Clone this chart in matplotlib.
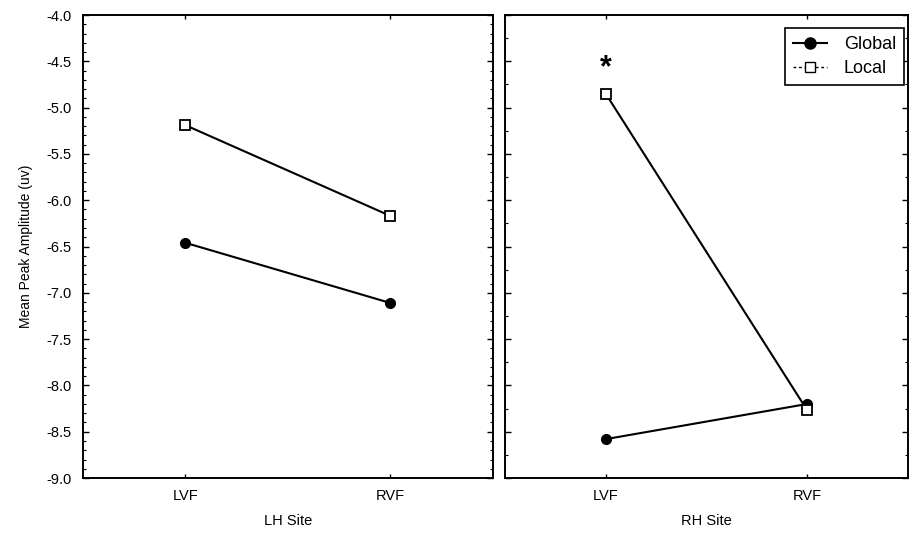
import matplotlib
matplotlib.use("Agg")
import matplotlib.pyplot as plt
from matplotlib.lines import Line2D
from matplotlib.ticker import MultipleLocator

plt.rcParams['font.family'] = ['Liberation Sans', 'DejaVu Sans']

# Visual fields on the x axis, one panel per hemisphere site
fields = ["LVF", "RVF"]
sites = ["LH Site", "RH Site"]

# Mean peak amplitudes (uV) per site: [LVF, RVF]
lh_global = [-6.46, -7.11]
lh_local = [-5.19, -6.17]
rh_global = [-8.58, -8.20]
rh_local = [-4.85, -8.27]

y_ticks = [-4.0, -4.5, -5.0, -5.5, -6.0, -6.5, -7.0, -7.5, -8.0, -8.5, -9.0]

fig = plt.figure(figsize=(9.11, 5.35), dpi=100)
ax_l = fig.add_axes([0.0911, 0.1065, 0.450, 0.8654])
ax_r = fig.add_axes([0.5543, 0.1065, 0.4425, 0.8654])

x = list(range(len(fields)))
panels = [(ax_l, lh_global, lh_local, sites[0], 0.1),
          (ax_r, rh_global, rh_local, sites[1], 0.25)]
for ax, g, loc, site, minor_step in panels:
    ax.plot(x, g, color="black", lw=1.5, marker="o", ms=7,
            markerfacecolor="black", markeredgecolor="black", zorder=3)
    ax.plot(x, loc, color="black", lw=1.5, marker="s", ms=7,
            markerfacecolor="white", markeredgecolor="black", markeredgewidth=1.3, zorder=3)
    ax.set_xlim(-0.5, 1.5)
    ax.set_ylim(-9.0, -4.0)
    ax.set_yticks(y_ticks)
    ax.set_xticks(x)
    ax.set_xticklabels(fields, fontsize=10.5)
    ax.set_xlabel(site, fontsize=10.5, labelpad=8)
    for s in ax.spines.values():
        s.set_linewidth(1.4)
    ax.yaxis.set_minor_locator(MultipleLocator(minor_step))
    ax.tick_params(axis="y", which="major", direction="in", length=4, width=1,
                   left=True, right=True)
    ax.tick_params(axis="y", which="minor", direction="in", length=2.5, width=0.8,
                   left=True, right=True)
    ax.tick_params(axis="x", direction="in", length=3, width=1, top=True, pad=8)

ax_l.set_yticklabels([f"{v:.1f}" for v in y_ticks], fontsize=10.5)
ax_l.tick_params(axis="y", which="major", pad=8)
ax_l.set_ylabel("Mean Peak Amplitude (uv)", fontsize=10, labelpad=10)
ax_r.tick_params(axis="y", which="both", labelleft=False)

# Significance marker above the RH-site local LVF mean
ax_r.text(0, -4.58, "*", fontsize=22, ha="center", va="center", fontweight="bold")

handles = [
    Line2D([], [], color="black", lw=1.5, marker="o", ms=8, markerfacecolor="black"),
    Line2D([], [], color="black", lw=1.0, ls=(0, (2, 2)), marker="s", ms=7.5,
           markerfacecolor="white", markeredgecolor="black"),
]
leg = ax_r.legend(handles, ["Global", "Local"], loc="upper right",
                  bbox_to_anchor=(0.99, 0.972), borderaxespad=0, fontsize=13,
                  fancybox=False, framealpha=1, edgecolor="black",
                  handlelength=1.9, handletextpad=0.9, borderpad=0.45,
                  labelspacing=0.4)
leg.get_frame().set_linewidth(1.2)

fig.savefig("out.png", dpi=100)
